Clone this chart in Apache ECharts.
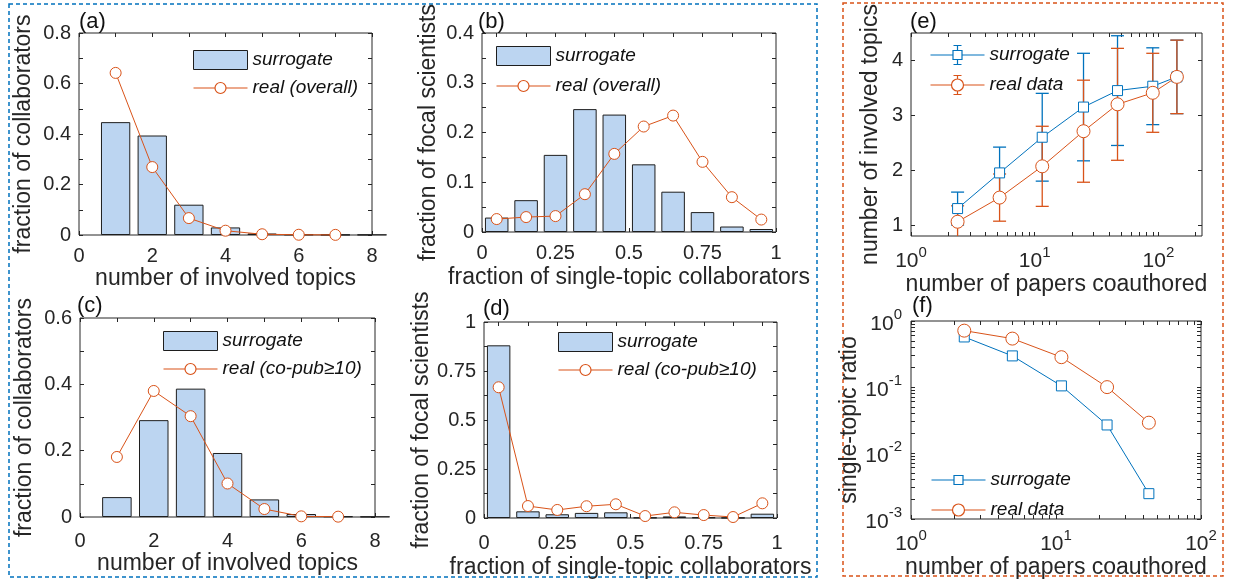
<!DOCTYPE html>
<html><head><meta charset="utf-8">
<script src="https://cdn.jsdelivr.net/npm/echarts@6/dist/echarts.min.js"></script>
<style>html,body{margin:0;padding:0;background:#fff}#c{width:1233px;height:581px}</style>
</head><body><div id="c"></div>
<script>
// ---------------- data ----------------
const aX = [1, 2, 3, 4, 5, 6, 7, 8];
const aSurrogate = [0.447, 0.394, 0.120, 0.030, 0.006, 0.002, 0.001, 0.001];
const aRealX = [1, 2, 3, 4, 5, 6, 7];
const aReal = [0.642, 0.269, 0.067, 0.017, 0.003, 0.001, 0.0005];

const bX = [0.05, 0.15, 0.25, 0.35, 0.45, 0.55, 0.65, 0.75, 0.85, 0.95];
const bSurrogate = [0.029, 0.064, 0.155, 0.247, 0.236, 0.136, 0.081, 0.040, 0.011, 0.006];
const bReal = [0.026, 0.030, 0.032, 0.076, 0.157, 0.212, 0.234, 0.141, 0.070, 0.025];

const cX = [1, 2, 3, 4, 5, 6, 7, 8];
const cSurrogate = [0.060, 0.292, 0.387, 0.193, 0.053, 0.009, 0.002, 0.001];
const cRealX = [1, 2, 3, 4, 5, 6, 7];
const cReal = [0.181, 0.380, 0.304, 0.101, 0.024, 0.002, 0.001];

const dX = [0.05, 0.15, 0.25, 0.35, 0.45, 0.55, 0.65, 0.75, 0.85, 0.95];
const dSurrogate = [0.881, 0.034, 0.019, 0.026, 0.029, 0.002, 0.008, 0.003, 0.001, 0.022];
const dReal = [0.667, 0.061, 0.041, 0.060, 0.070, 0.010, 0.029, 0.015, 0.005, 0.075];

const eX = [2.38, 5.2, 11.5, 24.8, 46.7, 90, 141];
const eSurrogate = [1.30, 1.95, 2.60, 3.15, 3.45, 3.53, 3.70];
const eSurrogateErr = [0.30, 0.47, 0.80, 0.98, 1.00, 0.70, 0.67];
const eReal = [1.06, 1.50, 2.07, 2.71, 3.20, 3.41, 3.70];
const eRealErr = [0.29, 0.43, 0.73, 0.93, 1.02, 0.72, 0.67];

const fX = [2.33, 5.0, 10.9, 22.5, 43.7];
const fSurrogate = [0.573, 0.296, 0.104, 0.0266, 0.00242];
const fReal = [0.714, 0.541, 0.283, 0.0996, 0.0288];

// tick label values
const abcTicksX = [0, 2, 4, 6, 8];
const fracTicks = [0, 0.25, 0.5, 0.75, 1];
const eTicksY = [1, 2, 3, 4];
const decadesE = [1, 10, 100];
const decadesF = [1, 10, 100];
const decadesFY = [0.001, 0.01, 0.1, 1];

const LABELS = {
  a_sur: 'surrogate', a_real: 'real (overall)',
  b_sur: 'surrogate', b_real: 'real (overall)',
  c_sur: 'surrogate', c_real: 'real (co-pub\u226510)',
  d_sur: 'surrogate', d_real: 'real (co-pub\u226510)',
  e_sur: 'surrogate', e_real: 'real data',
  f_sur: 'surrogate', f_real: 'real data'
};

// ---------------- styles ----------------
const FONT = '"Liberation Sans", Arial, Helvetica, sans-serif';
const TXT = '#262626';
const OR = '#D95319';
const BL = '#0072BD';
const BARFILL = '#bcd5f1';
const BAREDGE = '#1e1e1e';

function range(a, b, s) { const r = []; for (let v = a; v <= b + 1e-9; v += s) r.push(+v.toFixed(6)); return r; }
function logMinor(lo, hi) { const r = []; for (let d = lo; d < hi; d *= 10) for (let k = 1; k <= 9; k++) { const v = +(d * k).toPrecision(6); if (v <= hi) r.push(v); } r.push(hi); return r; }
function pairs(xs, ys) { return xs.map((x, i) => [x, ys[i]]); }

const nameStyle = { fontFamily: FONT, fontSize: 23, color: TXT };
const tickStyle = { color: TXT, width: 1 };

function logFmt(v) {
  const e = Math.round(Math.log10(v));
  if (Math.abs(Math.pow(10, e) - v) > 1e-6 * v) return '';
  return '{b|10}{s|' + e + '}';
}
const logRich = {
  b: { fontFamily: FONT, fontSize: 21, color: TXT, verticalAlign: 'bottom' },
  s: { fontFamily: FONT, fontSize: 15, color: TXT, verticalAlign: 'top', padding: [0, 0, 12, 0] }
};

function mkX(gi, o) {
  const common = { gridIndex: gi, type: o.type || 'value', min: o.min, max: o.max,
    splitLine: { show: false }, axisLine: { show: false, onZero: false } };
  if (o.type === 'log') common.logBase = 10;
  const lab = o.log
    ? { show: true, margin: o.margin, customValues: o.labels, formatter: logFmt, rich: logRich, fontFamily: FONT, fontSize: 21, color: TXT }
    : { show: true, margin: o.margin, customValues: o.labels, fontFamily: FONT, fontSize: 20, color: TXT };
  return [
    Object.assign({}, common, { position: 'bottom', name: o.name, nameLocation: 'middle', nameGap: o.nameGap,
      nameTextStyle: nameStyle, axisTick: { show: true, inside: true, length: 4, lineStyle: tickStyle, customValues: o.ticks },
      axisLabel: lab }),
    Object.assign({}, common, { position: 'top', axisTick: { show: true, inside: true, length: 4, lineStyle: tickStyle, customValues: o.topTicks || o.ticks },
      axisLabel: { show: false } })
  ];
}
function mkY(gi, o) {
  const common = { gridIndex: gi, type: o.type || 'value', min: o.min, max: o.max,
    splitLine: { show: false }, axisLine: { show: false, onZero: false } };
  if (o.type === 'log') common.logBase = 10;
  const lab = o.log
    ? { show: true, margin: o.margin, customValues: o.labels, formatter: logFmt, rich: logRich, fontFamily: FONT, fontSize: 21, color: TXT }
    : { show: true, margin: o.margin, customValues: o.labels, fontFamily: FONT, fontSize: 20, color: TXT };
  return [
    Object.assign({}, common, { position: 'left', name: o.name, nameLocation: 'middle', nameGap: o.nameGap, nameRotate: 90,
      nameTextStyle: nameStyle, axisTick: { show: true, inside: true, length: 4, lineStyle: tickStyle, customValues: o.ticks },
      axisLabel: lab }),
    Object.assign({}, common, { position: 'right', axisTick: { show: true, inside: true, length: 4, lineStyle: tickStyle, customValues: o.ticks },
      axisLabel: { show: false } })
  ];
}

const gridBox = { show: true, borderColor: TXT, borderWidth: 1, backgroundColor: '#fff' };
const grids = [
  Object.assign({ left: 79, top: 33, width: 293, height: 202 }, gridBox),
  Object.assign({ left: 482, top: 33, width: 294, height: 199 }, gridBox),
  Object.assign({ left: 80, top: 318, width: 295, height: 199 }, gridBox),
  Object.assign({ left: 484, top: 322, width: 293, height: 196 }, gridBox),
  Object.assign({ left: 911, top: 33, width: 291, height: 203 }, gridBox),
  Object.assign({ left: 911, top: 321, width: 290, height: 198 }, gridBox)
];

const xAxes = [].concat(
  mkX(0, { min: 0, max: 8, ticks: range(0, 8, 1), labels: abcTicksX, margin: 11, name: 'number of involved topics', nameGap: 27 }),
  mkX(1, { min: 0, max: 1, ticks: fracTicks, topTicks: bX, labels: fracTicks, margin: 11, name: 'fraction of single-topic collaborators', nameGap: 34 }),
  mkX(2, { min: 0, max: 8, ticks: range(0, 8, 1), labels: abcTicksX, margin: 14, name: 'number of involved topics', nameGap: 33 }),
  mkX(3, { min: 0, max: 1, ticks: fracTicks, topTicks: dX, labels: fracTicks, margin: 15, name: 'fraction of single-topic collaborators', nameGap: 38 }),
  mkX(4, { type: 'log', log: true, min: 1, max: 225, ticks: logMinor(1, 200), labels: decadesE, margin: 9, name: 'number of papers coauthored', nameGap: 36 }),
  mkX(5, { type: 'log', log: true, min: 1, max: 100, ticks: logMinor(1, 100), labels: decadesF, margin: 9, name: 'number of papers coauthored', nameGap: 35 })
);
const yAxes = [].concat(
  mkY(0, { min: 0, max: 0.8, ticks: range(0, 0.8, 0.1), labels: range(0, 0.8, 0.2), margin: 8, name: 'fraction of collaborators', nameGap: 44 }),
  mkY(1, { min: 0, max: 0.4, ticks: range(0, 0.4, 0.05), labels: range(0, 0.4, 0.1), margin: 8, name: 'fraction of focal scientists', nameGap: 42 }),
  mkY(2, { min: 0, max: 0.6, ticks: range(0, 0.6, 0.1), labels: range(0, 0.6, 0.2), margin: 8, name: 'fraction of collaborators', nameGap: 44 }),
  mkY(3, { min: 0, max: 1, ticks: range(0, 1, 0.125), labels: fracTicks, margin: 8, name: 'fraction of focal scientists', nameGap: 46 }),
  mkY(4, { min: 0.8, max: 4.5, ticks: eTicksY, labels: eTicksY, margin: 8, name: 'number of involved topics', nameGap: 29 }),
  mkY(5, { type: 'log', log: true, min: 0.001, max: 1, ticks: logMinor(0.001, 1), labels: decadesFY, margin: 9, name: 'single-topic ratio', nameGap: 49 })
);

const barStyle = { color: BARFILL, borderColor: BAREDGE, borderWidth: 1 };
function barS(name, p, xs, ys) {
  return { name, type: 'bar', xAxisIndex: 2 * p, yAxisIndex: 2 * p, data: pairs(xs, ys), barWidth: '80%', clip: true, itemStyle: barStyle };
}
function lineS(name, p, xs, ys, color, sym, size) {
  return { name, type: 'line', xAxisIndex: 2 * p, yAxisIndex: 2 * p, data: pairs(xs, ys), symbol: sym, symbolSize: size,
    lineStyle: { color, width: 1 }, itemStyle: { color: '#fff', borderColor: color, borderWidth: 1 }, clip: false };
}
function errS(name, p, xs, ys, es, color) {
  return { name, type: 'custom', xAxisIndex: 2 * p, yAxisIndex: 2 * p, clip: true,
    data: xs.map((x, i) => [x, ys[i] - es[i], ys[i] + es[i]]), encode: { x: 0, y: [1, 2] },
    renderItem: function (params, api) {
      const x = api.value(0), lo = api.value(1), hi = api.value(2);
      const p1 = api.coord([x, lo]), p2 = api.coord([x, hi]);
      const w = 6.5, st = { stroke: color, lineWidth: 1.3 };
      return { type: 'group', children: [
        { type: 'line', shape: { x1: p1[0], y1: p1[1], x2: p2[0], y2: p2[1] }, style: st },
        { type: 'line', shape: { x1: p1[0] - w, y1: p1[1], x2: p1[0] + w, y2: p1[1] }, style: st },
        { type: 'line', shape: { x1: p2[0] - w, y1: p2[1], x2: p2[0] + w, y2: p2[1] }, style: st }
      ] };
    } };
}

const series = [
  barS('a_sur', 0, aX, aSurrogate), lineS('a_real', 0, aRealX, aReal, OR, 'circle', 11),
  barS('b_sur', 1, bX, bSurrogate), lineS('b_real', 1, bX, bReal, OR, 'circle', 11),
  barS('c_sur', 2, cX, cSurrogate), lineS('c_real', 2, cRealX, cReal, OR, 'circle', 11),
  barS('d_sur', 3, dX, dSurrogate), lineS('d_real', 3, dX, dReal, OR, 'circle', 11),
  errS('e_surErr', 4, eX, eSurrogate, eSurrogateErr, BL), lineS('e_sur', 4, eX, eSurrogate, BL, 'rect', 10),
  errS('e_realErr', 4, eX, eReal, eRealErr, OR), lineS('e_real', 4, eX, eReal, OR, 'circle', 13),
  lineS('f_sur', 5, fX, fSurrogate, BL, 'rect', 10), lineS('f_real', 5, fX, fReal, OR, 'circle', 13)
];

// legend icons
const ICON_CIRC = 'path://M27,0M27,19M0,9.5H21.5M32.5,9.5H54M21.5,9.5A5.5,5.5,0,1,1,32.5,9.5A5.5,5.5,0,1,1,21.5,9.5Z';
const ICON_CIRC_B = 'path://M27,0M27,19M0,9.5H21M33,9.5H54M21,9.5A6,6,0,1,1,33,9.5A6,6,0,1,1,21,9.5Z';
const ICON_SQ = 'path://M27,0M27,19M0,9.5H22.5M31.5,9.5H54M22.5,5H31.5V14H22.5Z';
const ICON_SQ_ERR = 'path://M0,9.5H22.5M31.5,9.5H54M22.5,5H31.5V14H22.5ZM27,0V5M27,14V19M23,0H31M23,19H31';
const ICON_CIRC_ERR = 'path://M0,9.5H21M33,9.5H54M21,9.5A6,6,0,1,1,33,9.5A6,6,0,1,1,21,9.5ZM27,0V3.5M27,15.5V19M23,0H31M23,19H31';

function lineItem(name, icon, color) { return { name, icon, itemStyle: { color: 'none', borderColor: color, borderWidth: 1.2 } }; }
function barItem(name) { return { name, icon: 'rect', itemStyle: { color: BARFILL, borderColor: BAREDGE, borderWidth: 1 } }; }
function mkLegend(left, top, data, gap) {
  return { left, top, orient: 'vertical', itemWidth: 54, itemHeight: 19, itemGap: gap, padding: 0, selectedMode: false,
    textStyle: { fontFamily: FONT, fontSize: 19, fontStyle: 'italic', color: '#111' },
    formatter: n => LABELS[n], data };
}
const legends = [
  mkLegend(191, 50, [barItem('a_sur'), lineItem('a_real', ICON_CIRC, OR)], 6),
  mkLegend(494, 46, [barItem('b_sur'), lineItem('b_real', ICON_CIRC, OR)], 8),
  mkLegend(161, 331, [barItem('c_sur'), lineItem('c_real', ICON_CIRC, OR)], 6),
  mkLegend(556, 332, [barItem('d_sur'), lineItem('d_real', ICON_CIRC, OR)], 6),
  mkLegend(928, 43, [lineItem('e_sur', ICON_SQ_ERR, BL), lineItem('e_real', ICON_CIRC_ERR, OR)], 6),
  mkLegend(929, 468, [lineItem('f_sur', ICON_SQ, BL), lineItem('f_real', ICON_CIRC_B, OR)], 6)
];

function panelLabel(t, x, y) {
  return { type: 'text', x, y, silent: true, style: { text: t, font: '22px ' + FONT, fill: '#111', textVerticalAlign: 'middle' } };
}
const graphic = [
  { type: 'rect', silent: true, z: -1, shape: { x: 9, y: 4, width: 808, height: 573 }, style: { fill: 'none', stroke: BL, lineWidth: 1.5, lineDash: [4, 3] } },
  { type: 'rect', silent: true, z: -1, shape: { x: 843, y: 3, width: 380, height: 573 }, style: { fill: 'none', stroke: OR, lineWidth: 1.5, lineDash: [4, 3] } },
  panelLabel('(a)', 79, 22), panelLabel('(b)', 478, 22), panelLabel('(c)', 77, 306),
  panelLabel('(d)', 483, 309), panelLabel('(e)', 910, 22), panelLabel('(f)', 912, 306)
];

const chart = echarts.init(document.getElementById('c'), null, { renderer: 'canvas' });
chart.setOption({
  animation: false,
  backgroundColor: '#fff',
  grid: grids, xAxis: xAxes, yAxis: yAxes, series, legend: legends, graphic
});
</script></body></html>
